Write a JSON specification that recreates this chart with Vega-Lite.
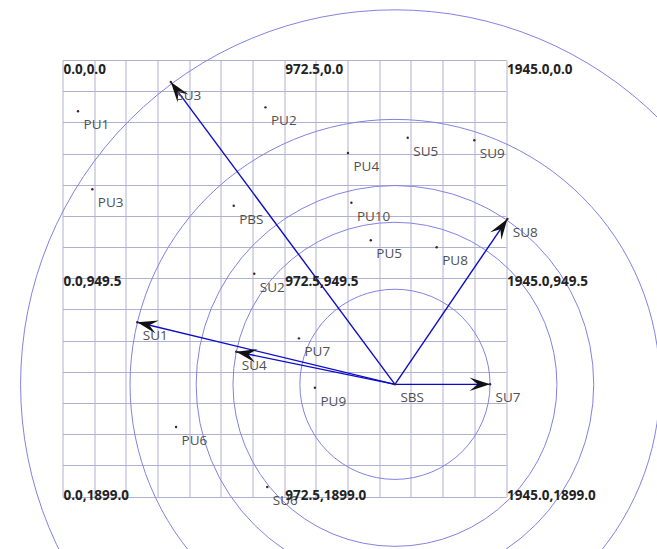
{
  "$schema": "https://vega.github.io/schema/vega-lite/v6.json",
  "width": 443.5,
  "height": 436.5,
  "autosize": {"type": "none"},
  "padding": {"left": 62.5, "top": 60, "right": 151, "bottom": 52.5},
  "background": "white",
  "config": {
    "view": {"stroke": null},
    "axis": {"grid": true, "labels": false, "ticks": false, "domain": false, "gridColor": "#b0b0d0", "gridWidth": 1, "gridOpacity": 1, "tickCount": 30}
  },
  "datasets": {
    "nodes": [
      {"name": "PU1", "x": 68, "y": 223},
      {"name": "PU2", "x": 890, "y": 206},
      {"name": "PU3", "x": 131, "y": 562},
      {"name": "PU4", "x": 1252, "y": 405},
      {"name": "PU5", "x": 1352, "y": 784},
      {"name": "PU6", "x": 498, "y": 1597},
      {"name": "PU7", "x": 1037, "y": 1211},
      {"name": "PU8", "x": 1641, "y": 815},
      {"name": "PU9", "x": 1107, "y": 1426},
      {"name": "PU10", "x": 1267, "y": 621},
      {"name": "PBS", "x": 751, "y": 634},
      {"name": "SBS", "x": 1458, "y": 1411},
      {"name": "SU1", "x": 328, "y": 1141},
      {"name": "SU2", "x": 841, "y": 930},
      {"name": "SU3", "x": 475, "y": 96},
      {"name": "SU4", "x": 762, "y": 1269},
      {"name": "SU5", "x": 1514, "y": 338},
      {"name": "SU6", "x": 898, "y": 1858},
      {"name": "SU7", "x": 1875, "y": 1411},
      {"name": "SU8", "x": 1951, "y": 692},
      {"name": "SU9", "x": 1806, "y": 349}
    ],
    "links": [
      {"from": "SBS", "to": "SU1"},
      {"from": "SBS", "to": "SU3"},
      {"from": "SBS", "to": "SU4"},
      {"from": "SBS", "to": "SU7"},
      {"from": "SBS", "to": "SU8"}
    ],
    "corners": [
      {"x": 0, "y": 0, "label": "0.0,0.0"},
      {"x": 972.5, "y": 0, "label": "972.5,0.0"},
      {"x": 1945, "y": 0, "label": "1945.0,0.0"},
      {"x": 0, "y": 949.5, "label": "0.0,949.5"},
      {"x": 972.5, "y": 949.5, "label": "972.5,949.5"},
      {"x": 1945, "y": 949.5, "label": "1945.0,949.5"},
      {"x": 0, "y": 1899, "label": "0.0,1899.0"},
      {"x": 972.5, "y": 1899, "label": "972.5,1899.0"},
      {"x": 1945, "y": 1899, "label": "1945.0,1899.0"}
    ]
  },
  "layer": [
    {
      "data": {"name": "links"},
      "transform": [
        {"lookup": "from", "from": {"data": {"name": "nodes"}, "key": "name", "fields": ["x", "y"]}},
        {"lookup": "to", "from": {"data": {"name": "nodes"}, "key": "name", "fields": ["x", "y"]}, "as": ["tx", "ty"]},
        {"calculate": "sqrt(pow(datum.tx - datum.x, 2) + pow(datum.ty - datum.y, 2))", "as": "r"}
      ],
      "mark": {"type": "point", "shape": "circle", "filled": false, "color": "#8282e4", "strokeWidth": 1, "opacity": 1, "clip": false},
      "encoding": {
        "x": {"field": "x", "type": "quantitative", "title": null,
              "scale": {"domain": [0, 1945], "nice": false, "zero": false},
              "axis": {"values": [0, 138.93, 277.86, 416.79, 555.71, 694.64, 833.57, 972.5, 1111.43, 1250.36, 1389.29, 1528.21, 1667.14, 1806.07, 1945], "tickCount": 30, "title": null}},
        "y": {"field": "y", "type": "quantitative", "title": null,
              "scale": {"domain": [0, 1899], "nice": false, "zero": false, "reverse": true},
              "axis": {"values": [0, 135.64, 271.29, 406.93, 542.57, 678.21, 813.86, 949.5, 1085.14, 1220.79, 1356.43, 1492.07, 1627.71, 1763.36, 1899], "tickCount": 30, "title": null}},
        "size": {"field": "r", "type": "quantitative", "legend": null,
                 "scale": {"type": "pow", "exponent": 2, "domain": [0, 1945], "range": [0, 786769]}}
      }
    },
    {
      "data": {"name": "links"},
      "transform": [
        {"lookup": "from", "from": {"data": {"name": "nodes"}, "key": "name", "fields": ["x", "y"]}},
        {"lookup": "to", "from": {"data": {"name": "nodes"}, "key": "name", "fields": ["x", "y"]}, "as": ["tx", "ty"]}
      ],
      "mark": {"type": "rule", "color": "#0c0cc8", "strokeWidth": 1.4},
      "encoding": {
        "x": {"field": "x", "type": "quantitative", "title": null, "scale": {"domain": [0, 1945], "nice": false, "zero": false}},
        "y": {"field": "y", "type": "quantitative", "title": null, "scale": {"domain": [0, 1899], "nice": false, "zero": false, "reverse": true}},
        "x2": {"field": "tx"},
        "y2": {"field": "ty"}
      }
    },
    {
      "data": {"name": "links"},
      "transform": [
        {"lookup": "from", "from": {"data": {"name": "nodes"}, "key": "name", "fields": ["x", "y"]}, "as": ["sx", "sy"]},
        {"lookup": "to", "from": {"data": {"name": "nodes"}, "key": "name", "fields": ["x", "y"]}},
        {"calculate": "atan2(datum.y - datum.sy, datum.x - datum.sx) * 180 / PI", "as": "heading"}
      ],
      "mark": {"type": "point", "shape": "M0,0L-2,-0.66L-1.2,0L-2,0.66Z", "filled": true, "color": "#111111", "opacity": 1, "size": 420, "strokeWidth": 0},
      "encoding": {
        "x": {"field": "x", "type": "quantitative", "title": null, "scale": {"domain": [0, 1945], "nice": false, "zero": false}},
        "y": {"field": "y", "type": "quantitative", "title": null, "scale": {"domain": [0, 1899], "nice": false, "zero": false, "reverse": true}},
        "angle": {"field": "heading", "type": "quantitative", "scale": null}
      }
    },
    {
      "data": {"name": "nodes"},
      "mark": {"type": "point", "shape": "circle", "filled": true, "color": "#4a2222", "opacity": 1, "size": 6},
      "encoding": {
        "x": {"field": "x", "type": "quantitative", "title": null, "scale": {"domain": [0, 1945], "nice": false, "zero": false}},
        "y": {"field": "y", "type": "quantitative", "title": null, "scale": {"domain": [0, 1899], "nice": false, "zero": false, "reverse": true}}
      }
    },
    {
      "data": {"name": "nodes"},
      "mark": {"type": "text", "align": "left", "baseline": "middle", "dx": 5.5, "dy": 14, "font": "Open Sans", "fontSize": 13.5, "color": "#505050"},
      "encoding": {
        "x": {"field": "x", "type": "quantitative", "title": null, "scale": {"domain": [0, 1945], "nice": false, "zero": false}},
        "y": {"field": "y", "type": "quantitative", "title": null, "scale": {"domain": [0, 1899], "nice": false, "zero": false, "reverse": true}},
        "text": {"field": "name"}
      }
    },
    {
      "data": {"name": "corners"},
      "transform": [{"filter": "datum.y == 0"}],
      "mark": {"type": "text", "align": "left", "baseline": "middle", "dx": 1, "dy": 10, "font": "Open Sans", "fontWeight": "bold", "fontSize": 13.5, "color": "#222222"},
      "encoding": {
        "x": {"field": "x", "type": "quantitative", "title": null, "scale": {"domain": [0, 1945], "nice": false, "zero": false}},
        "y": {"field": "y", "type": "quantitative", "title": null, "scale": {"domain": [0, 1899], "nice": false, "zero": false, "reverse": true}},
        "text": {"field": "label"}
      }
    },
    {
      "data": {"name": "corners"},
      "transform": [{"filter": "datum.y == 949.5"}],
      "mark": {"type": "text", "align": "left", "baseline": "middle", "dx": 1, "dy": 4, "font": "Open Sans", "fontWeight": "bold", "fontSize": 13.5, "color": "#222222"},
      "encoding": {
        "x": {"field": "x", "type": "quantitative", "title": null, "scale": {"domain": [0, 1945], "nice": false, "zero": false}},
        "y": {"field": "y", "type": "quantitative", "title": null, "scale": {"domain": [0, 1899], "nice": false, "zero": false, "reverse": true}},
        "text": {"field": "label"}
      }
    },
    {
      "data": {"name": "corners"},
      "transform": [{"filter": "datum.y == 1899"}],
      "mark": {"type": "text", "align": "left", "baseline": "middle", "dx": 1, "dy": -1, "font": "Open Sans", "fontWeight": "bold", "fontSize": 13.5, "color": "#222222"},
      "encoding": {
        "x": {"field": "x", "type": "quantitative", "title": null, "scale": {"domain": [0, 1945], "nice": false, "zero": false}},
        "y": {"field": "y", "type": "quantitative", "title": null, "scale": {"domain": [0, 1899], "nice": false, "zero": false, "reverse": true}},
        "text": {"field": "label"}
      }
    }
  ]
}
